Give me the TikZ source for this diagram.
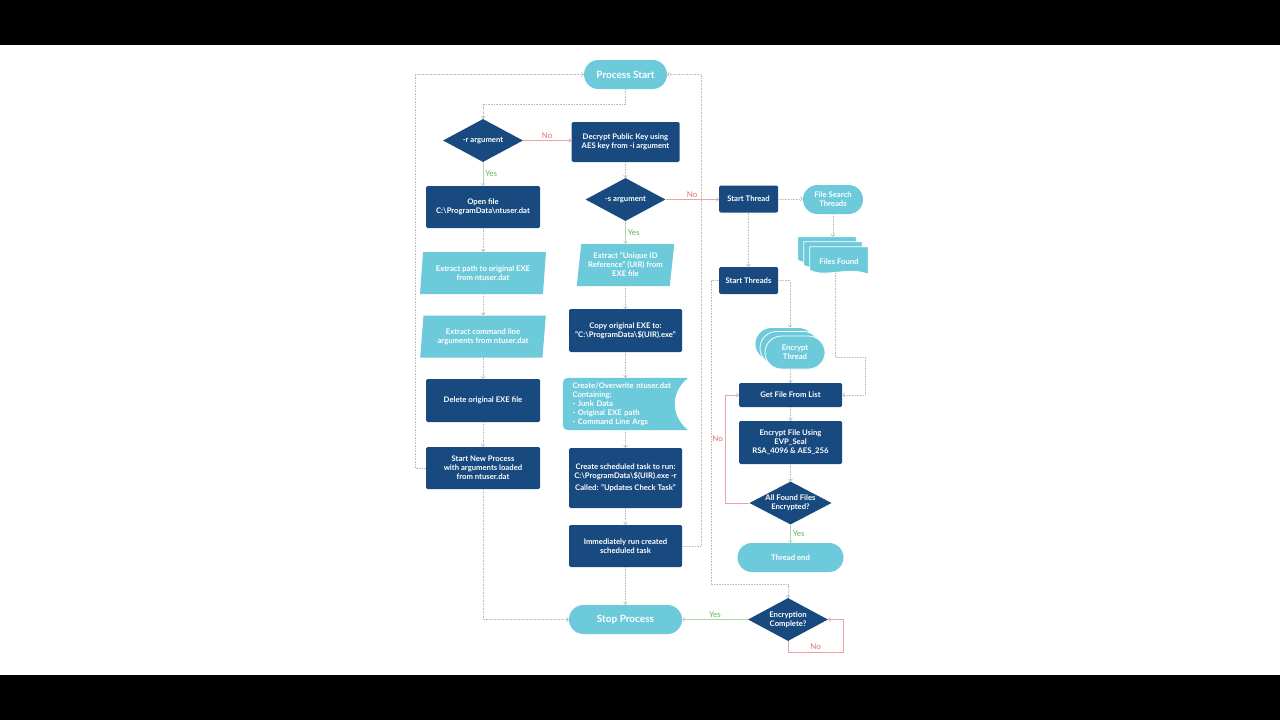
\documentclass[tikz,border=0pt]{standalone}
\usepackage{fontspec}
\setmainfont{Lato}
\usetikzlibrary{shapes.geometric,shapes.misc,arrows.meta,calc,backgrounds}
\definecolor{navy}{HTML}{184A80}
\definecolor{sky}{HTML}{6DCADB}
\definecolor{wire}{HTML}{BDBDBD}
\definecolor{nored}{HTML}{EDA3A3}
\definecolor{notext}{HTML}{E07070}
\definecolor{yesgreen}{HTML}{A9D9A9}
\definecolor{yestext}{HTML}{5CB85C}
\newcommand\flowfont{\bfseries\fontsize{7.7}{9}\selectfont}
\newcommand\termfont{\bfseries\fontsize{10}{11}\selectfont}
\tikzset{
  proc/.style={
    fill=navy,
    text=white,
    rounded corners=1.5pt,
    inner sep=2pt,
    align=center,
    font=\flowfont
  },
  term/.style={
    rounded rectangle,
    fill=sky,
    text=white,
    inner sep=2pt,
    align=center,
    font=\flowfont
  },
  io/.style={
    trapezium,
    trapezium left angle=81,
    trapezium right angle=99,
    trapezium stretches=true,
    fill=sky,
    text=white,
    inner sep=0pt,
    align=center,
    font=\flowfont
  },
  decision/.style={
    diamond,
    aspect=2,
    fill=navy,
    text=white,
    inner sep=0pt,
    minimum width=80pt,
    minimum height=43pt,
    align=center,
    font=\flowfont
  },
  flow/.style={draw=wire,densely dotted,line width=0.6pt,-{Straight Barb[length=2pt,width=4pt]}},
  noarrow/.style={draw=nored,line width=0.6pt,-{Straight Barb[length=2pt,width=4pt]}},
  yesarrow/.style={draw=yesgreen,line width=0.6pt,-{Straight Barb[length=2pt,width=4pt]}},
  nolabel/.style={text=notext,font=\fontsize{8}{9}\selectfont,inner sep=2pt},
  yeslabel/.style={text=yestext,font=\fontsize{8}{9}\selectfont,inner sep=2pt}
}

\begin{document}
\begin{tikzpicture}[x=1pt,y=-1pt]
  \begin{scope}[on background layer]
    \fill[black] (0,0) rectangle (1280,720);
    \fill[white] (0,45) rectangle (1280,675);
  \end{scope}

  % left column
  \node[term,font=\termfont,minimum width=87pt,minimum height=29pt] (pstart) at (625.5,74.5) {Process Start};
  \node[decision] (rarg) at (483,140.5) {-r argument};
  \node[proc,minimum width=114pt,minimum height=42pt] (openf) at (483,207) {Open file\\C:\textbackslash ProgramData\textbackslash ntuser.dat};
  \node[io,minimum width=126pt,minimum height=42pt] (xpath) at (483,273) {Extract path to original EXE\\from ntuser.dat};
  \node[io,minimum width=126pt,minimum height=42pt] (xargs) at (483,336.5) {Extract command line\\arguments from ntuser.dat};
  \node[proc,minimum width=114pt,minimum height=43pt] (delexe) at (483,400.5) {Delete original EXE file};
  \node[proc,minimum width=114pt,minimum height=42pt] (newproc) at (483,468) {Start New Process\\with arguments loaded\\from ntuser.dat};

  % middle column
  \node[proc,minimum width=108pt,minimum height=40pt] (decrypt) at (625.5,142) {Decrypt Public Key using\\AES key from -i argument};
  \node[decision] (sarg) at (625.5,199.5) {-s argument};
  \node[io,minimum width=98pt,minimum height=42pt] (uir) at (625.5,265) {Extract "Unique ID\\Reference" (UIR) from\\EXE file};
  \node[proc,minimum width=113pt,minimum height=43pt] (copyexe) at (625.5,330.5) {Copy original EXE to:\\"C:\textbackslash ProgramData\textbackslash\$(UIR).exe"};
  \node[text=white,font=\flowfont,align=left,text width=106pt,inner xsep=9.5pt,inner ysep=0pt,minimum height=52pt] (ntuser) at (625.5,404) {Create/Overwrite ntuser.dat\\Containing:\\- Junk Data\\- Original EXE path\\- Command Line Args};
  \node[proc,minimum width=113pt,minimum height=60pt] (sched) at (625.5,478) {Create scheduled task to run:\\C:\textbackslash ProgramData\textbackslash\$(UIR).exe -r\\[3pt]Called: "Updates Check Task"};
  \node[proc,minimum width=113pt,minimum height=42pt] (runtask) at (625.5,546) {Immediately run created\\scheduled task};
  \node[term,font=\termfont,minimum width=117pt,minimum height=29pt] (stop) at (625.5,619.5) {Stop Process};

  % right column
  \node[proc,minimum width=59pt,minimum height=27pt] (sthread) at (748.5,199) {Start Thread};
  \node[term,minimum width=64pt,minimum height=29pt] (fsearch) at (833,199.5) {File Search\\Threads};
  \node[minimum width=58pt,minimum height=29pt,inner sep=0pt] (docA) at (827,251.5) {};
  \node[minimum width=58pt,minimum height=29pt,inner sep=0pt] (docB) at (833,256.5) {};
  \node[text=white,font=\flowfont,minimum width=58pt,minimum height=29pt,inner sep=0pt] (found) at (839,261.5) {Files Found};
  \node[proc,minimum width=59pt,minimum height=27pt] (sthreads) at (748.5,280.5) {Start Threads};
  \node[term,draw=white,line width=0.8pt,minimum width=64pt,minimum height=33pt] (thrA) at (785,344) {};
  \node[term,draw=white,line width=0.8pt,minimum width=64pt,minimum height=33pt] (thrB) at (790,348) {};
  \node[term,draw=white,line width=0.8pt,minimum width=64pt,minimum height=33pt] (thr) at (795,352.5) {Encrypt\\Thread};
  \node[proc,minimum width=103pt,minimum height=24pt] (getfile) at (790.5,395) {Get File From List};
  \node[proc,minimum width=103pt,minimum height=43pt] (encfile) at (790.5,442.5) {Encrypt File Using\\EVP\_Seal\\RSA\_4096 \& AES\_256};
  \node[decision] (allfound) at (790.5,503) {All Found Files\\Encrypted?};
  \node[term,minimum width=110pt,minimum height=29pt] (tend) at (790.5,557.5) {Thread end};
  \node[decision] (enccomp) at (788,619.5) {Encryption\\Complete?};

  \begin{scope}[on background layer]
    \fill[sky,rounded corners=5pt] (ntuser.north west) rectangle ($(ntuser.south east)+(-30,0)$);
    \fill[sky] ($(ntuser.north east)+(-36,0)$) -- (ntuser.north east)
      .. controls +(-18,14) and +(-18,-14) .. (ntuser.south east) -- ++(-36,0) -- cycle;
    \foreach \d in {docA,docB,found}
      \fill[sky,draw=white,line width=0.8pt] (\d.north west) -- (\d.north east) -- ($(\d.south east)+(0,-2)$)
        .. controls +(-20,-8) and +(15,8) .. ($(\d.south west)+(0,-6)$) -- cycle;
  \end{scope}

  % connectors
  \draw[flow] (pstart.south) |- ($(rarg.north)+(0,-15)$) -- (rarg.north);
  \draw[noarrow] (rarg.east) -- node[nolabel,above]{No} (rarg.east -| decrypt.west);
  \draw[yesarrow] (rarg.south) -- node[yeslabel,right]{Yes} (openf.north);
  \draw[flow] (decrypt.south) -- (sarg.north);
  \draw[noarrow] (sarg.east) -- node[nolabel,above]{No} (sarg.east -| sthread.west);
  \draw[yesarrow] (sarg.south) -- node[yeslabel,right]{Yes} (uir.north);
  \foreach \a/\b in {openf/xpath,xpath/xargs,xargs/delexe,delexe/newproc,uir/copyexe,copyexe/ntuser,
                     ntuser/sched,sched/runtask,runtask/stop,sthread/sthreads,getfile/encfile,encfile/allfound}
    \draw[flow] (\a.south) -- (\a.south |- \b.north);
  \draw[flow] (newproc.west) -- ++(-11,0) |- (pstart.west);
  \draw[flow] (newproc.south) |- (stop.west);
  \draw[flow] (runtask.east) -- ++(19,0) |- (pstart.east);
  \draw[flow] (sthread.east) -- (sthread.east -| fsearch.west);
  \draw[flow] (fsearch.south) -- (fsearch.south |- docA.north);
  \draw[flow] ($(found.south)+(-4,-3)$) -- ++(0,84) -| ($(getfile.east)+(23,0)$) -- (getfile.east);
  \draw[flow] (sthreads.east) -| (thrB.north |- thrA.north);
  \draw[flow] (thr.south -| getfile.north) -- (getfile.north);
  \draw[noarrow] (allfound.west) -- ++(-24,0) |- node[nolabel,left,pos=0.3]{No} (getfile.west);
  \draw[yesarrow] (allfound.south) -- node[yeslabel,right]{Yes} (tend.north);
  \draw[flow] (sthreads.west) -- ++(-8,0) -- ++(0,304) -| (enccomp.north);
  \draw[yesarrow] (enccomp.west) -- node[yeslabel,above]{Yes} (enccomp.west -| stop.east);
  \draw[noarrow] (enccomp.south) -- ++(0,11) -| node[nolabel,above,pos=0.25]{No} ($(enccomp.east)+(15,0)$) -- (enccomp.east);
\end{tikzpicture}
\end{document}
